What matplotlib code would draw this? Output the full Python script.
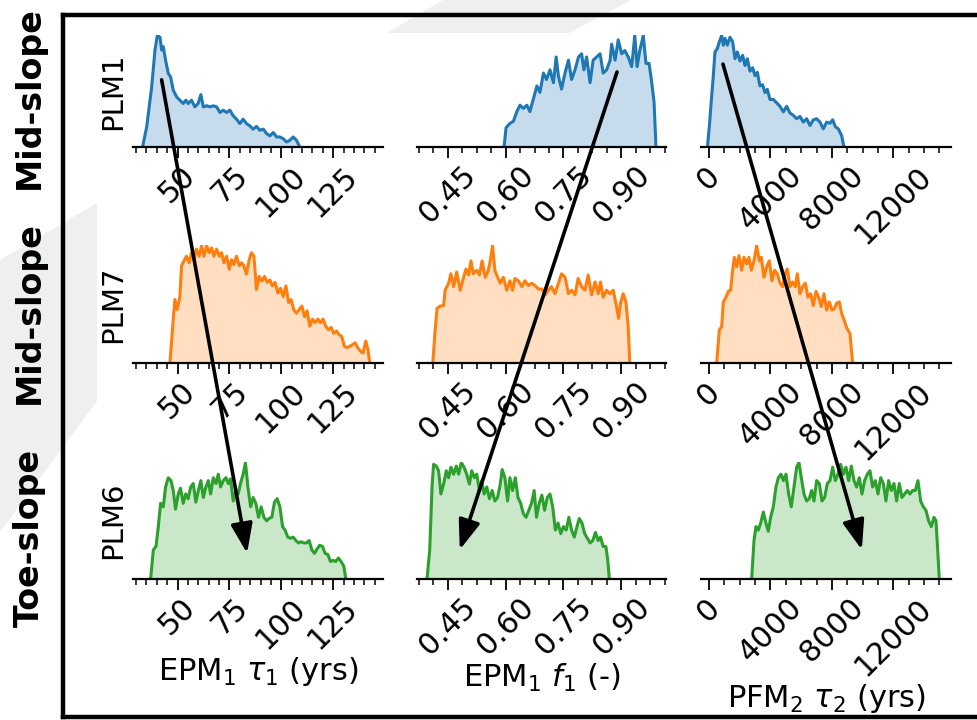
import matplotlib
matplotlib.use("Agg")
import matplotlib.pyplot as plt
from matplotlib.ticker import FixedLocator, FixedFormatter, AutoMinorLocator
from matplotlib.patches import Polygon, Rectangle, ConnectionPatch
from matplotlib.transforms import blended_transform_factory
from matplotlib.lines import Line2D

# ---------------------------------------------------------------------------
# Posterior densities (normalised to the peak of each panel)
# ---------------------------------------------------------------------------
sites = ["PLM1", "PLM7", "PLM6"]
slope_positions = ["Mid-slope", "Mid-slope", "Toe-slope"]
site_colors = ["#1f77b4", "#ff7f0e", "#2ca02c"]
param_labels = [r"$\mathrm{EPM}_1$ $\tau_1$ (yrs)",
                r"$\mathrm{EPM}_1$ $f_1$ (-)",
                r"$\mathrm{PFM}_2$ $\tau_2$ (yrs)"]

tau1_ticks = [50, 75, 100, 125]
tau1_ticklabels = ["50", "75", "100", "125"]
f1_ticks = [0.45, 0.60, 0.75, 0.90]
f1_ticklabels = ["0.45", "0.60", "0.75", "0.90"]
tau2_ticks = [0, 4000, 8000, 12000]
tau2_ticklabels = ["0", "4000", "8000", "12000"]

tau1_limits = (28.5, 149.0)
f1_limits = (0.370, 1.016)
tau2_limits = (-520, 15757)

# PLM1 -------------------------------------------------------------------
plm1_tau1_x = [33.1, 35.1, 37.5, 39.1, 40.2, 41.5, 42.3, 43.1, 44.2, 45.5, 46.6, 47.9,
               49.5, 51.1, 52.7, 54.0, 55.1, 56.7, 58.3, 59.9, 61.2, 62.4, 64.0, 65.6,
               67.2, 68.8, 70.4, 72.0, 73.6, 75.2, 76.8, 78.4, 80.0, 81.6, 83.2, 84.8,
               86.4, 88.0, 89.6, 91.3, 92.9, 94.5, 96.1, 97.7, 99.3, 100.9, 102.5,
               104.1, 105.7, 107.3, 108.9]
plm1_tau1_d = [0.0, 0.18, 0.54, 0.87, 1.0, 0.985, 0.87, 0.90, 0.78, 0.66, 0.63, 0.51,
               0.45, 0.42, 0.39, 0.42, 0.39, 0.42, 0.36, 0.39, 0.47, 0.36, 0.37, 0.36,
               0.37, 0.36, 0.31, 0.33, 0.31, 0.33, 0.28, 0.25, 0.21, 0.25, 0.21, 0.19,
               0.16, 0.185, 0.15, 0.16, 0.12, 0.10, 0.13, 0.09, 0.09, 0.075, 0.045,
               0.06, 0.09, 0.06, 0.0]

plm1_f1_x = [0.596, 0.601, 0.611, 0.620, 0.629, 0.637, 0.646, 0.655, 0.663, 0.672,
             0.681, 0.689, 0.698, 0.706, 0.715, 0.724, 0.731, 0.737, 0.745, 0.754,
             0.763, 0.771, 0.780, 0.789, 0.797, 0.803, 0.810, 0.819, 0.827, 0.836,
             0.845, 0.853, 0.862, 0.871, 0.875, 0.884, 0.892, 0.901, 0.909, 0.918,
             0.927, 0.935, 0.941, 0.948, 0.957, 0.964, 0.972, 0.978, 0.985, 0.990]
plm1_f1_d = [0.0, 0.18, 0.22, 0.24, 0.33, 0.39, 0.36, 0.39, 0.33, 0.45,
             0.57, 0.51, 0.69, 0.63, 0.72, 0.60, 0.84, 0.66, 0.54, 0.69,
             0.81, 0.63, 0.72, 0.84, 0.87, 0.72, 0.84, 0.60, 0.81, 0.84,
             0.87, 0.69, 0.72, 0.81, 0.96, 0.81, 1.0, 0.87, 0.90, 0.84,
             0.75, 1.04, 0.75, 0.90, 1.04, 0.78, 0.78, 0.63, 0.42, 0.0]

plm1_tau2_x = [-100, 22, 174, 282, 390, 543, 673, 825, 933, 1042, 1194, 1367, 1541,
               1693, 1845, 2018, 2192, 2344, 2496, 2669, 2843, 2995, 3147, 3320, 3494,
               3646, 3798, 3971, 4188, 4405, 4622, 4839, 5056, 5273, 5490, 5707, 5924,
               6141, 6358, 6575, 6792, 7009, 7226, 7443, 7660, 7877, 8051, 8224, 8420,
               8637, 8789]
plm1_tau2_d = [0.0, 0.18, 0.45, 0.63, 0.84, 0.87, 0.93, 0.985, 0.90, 0.96, 0.90, 0.97,
               0.93, 0.78, 0.84, 0.76, 0.81, 0.72, 0.78, 0.67, 0.70, 0.63, 0.66, 0.54,
               0.55, 0.48, 0.51, 0.42, 0.42, 0.39, 0.36, 0.31, 0.36, 0.30, 0.28, 0.25,
               0.27, 0.22, 0.25, 0.19, 0.24, 0.25, 0.22, 0.16, 0.22, 0.21, 0.24, 0.18,
               0.16, 0.10, 0.0]

# PLM7 -------------------------------------------------------------------
plm7_tau1_x = [46.3, 47.9, 48.7, 49.8, 51.1, 51.9, 53.0, 54.3, 55.6, 56.7, 57.9, 59.1,
               60.4, 61.6, 62.7, 64.0, 65.2, 66.4, 67.5, 68.8, 70.1, 71.2, 72.3, 73.6,
               74.9, 76.0, 77.1, 78.4, 79.7, 80.8, 81.9, 83.2, 84.5, 85.6, 86.8, 88.0,
               89.3, 90.6, 91.9, 93.2, 94.5, 95.7, 97.0, 98.3, 99.6, 100.9, 102.2,
               103.5, 104.7, 106.0, 107.3, 108.6, 109.9, 111.2, 112.4, 113.7, 115.0,
               116.3, 117.6, 118.9, 120.1, 121.4, 122.7, 124.0, 125.3, 126.6, 127.8,
               129.1, 130.4, 131.7, 133.0, 134.3, 135.6, 136.8, 138.1, 139.4, 140.7,
               141.8, 142.6]
plm7_tau1_d = [0.0, 0.37, 0.535, 0.45, 0.56, 0.82, 0.86, 0.90, 0.845, 0.93, 0.87, 0.96,
               0.90, 0.99, 0.90, 0.99, 0.93, 0.97, 0.90, 0.96, 0.90, 0.93, 0.845, 0.90,
               0.79, 0.87, 0.83, 0.90, 0.82, 0.845, 0.82, 0.75, 0.87, 0.93, 0.90, 0.62,
               0.73, 0.69, 0.73, 0.68, 0.70, 0.65, 0.68, 0.59, 0.63, 0.56, 0.65,
               0.51, 0.535, 0.45, 0.42, 0.45, 0.48, 0.39, 0.44, 0.31, 0.37,
               0.34, 0.37, 0.34, 0.37, 0.31, 0.28, 0.30, 0.25, 0.27, 0.24,
               0.225, 0.14, 0.13, 0.14, 0.155, 0.17, 0.13, 0.10, 0.085, 0.185,
               0.11, 0.0]

plm7_f1_x = [0.411, 0.417, 0.422, 0.430, 0.439, 0.443, 0.452, 0.458, 0.465, 0.473,
             0.482, 0.491, 0.497, 0.504, 0.510, 0.516, 0.525, 0.532, 0.539, 0.547,
             0.555, 0.560, 0.566, 0.572, 0.579, 0.586, 0.594, 0.603, 0.611, 0.618,
             0.624, 0.633, 0.642, 0.650, 0.659, 0.668, 0.676, 0.685, 0.694, 0.702,
             0.711, 0.719, 0.728, 0.737, 0.745, 0.754, 0.763, 0.771, 0.780, 0.788,
             0.797, 0.806, 0.814, 0.823, 0.832, 0.840, 0.846, 0.853, 0.862, 0.870,
             0.879, 0.886, 0.893, 0.898, 0.905, 0.912, 0.918, 0.922]
plm7_f1_d = [0.0, 0.28, 0.465, 0.485, 0.49, 0.62, 0.68, 0.76, 0.65, 0.775,
             0.62, 0.73, 0.80, 0.75, 0.87, 0.76, 0.79, 0.75, 0.87, 0.73,
             0.79, 0.87, 1.0, 0.79, 0.73, 0.68, 0.73, 0.62, 0.70, 0.62,
             0.72, 0.70, 0.65, 0.70, 0.66, 0.68, 0.66, 0.63, 0.63, 0.58,
             0.62, 0.65, 0.59, 0.68, 0.76, 0.73, 0.59, 0.62, 0.58, 0.72,
             0.65, 0.62, 0.75, 0.58, 0.69, 0.59, 0.69, 0.56, 0.62, 0.59,
             0.62, 0.51, 0.38, 0.51, 0.59, 0.52, 0.31, 0.0]

plm7_tau2_x = [499, 673, 825, 933, 1107, 1259, 1410, 1541, 1649, 1801, 1953, 2127,
               2279, 2452, 2604, 2756, 2930, 3103, 3277, 3407, 3581, 3754, 3928, 4101,
               4275, 4449, 4622, 4796, 4948, 5100, 5273, 5447, 5620, 5751, 5924, 6098,
               6271, 6445, 6619, 6792, 6966, 7139, 7313, 7487, 7660, 7834, 8007, 8181,
               8311, 8485, 8637, 8789, 8962, 9179, 9353]
plm7_tau2_d = [0.0, 0.28, 0.31, 0.52, 0.56, 0.61, 0.62, 0.79, 0.90, 0.82, 0.915, 0.79,
               0.90, 0.845, 0.90, 0.79, 0.87, 1.0, 0.87, 0.90, 0.73, 0.82, 0.87, 0.70,
               0.79, 0.76, 0.68, 0.65, 0.76, 0.80, 0.65, 0.69, 0.65, 0.76, 0.59, 0.65,
               0.68, 0.56, 0.59, 0.49, 0.61, 0.56, 0.48, 0.59, 0.45, 0.52, 0.45, 0.465,
               0.51, 0.52, 0.42, 0.37, 0.30, 0.25, 0.0]

# PLM6 -------------------------------------------------------------------
plm6_tau1_x = [37.0, 38.3, 39.6, 40.7, 41.8, 43.1, 44.2, 45.5, 46.8, 47.9, 49.0, 50.3,
               51.4, 52.7, 53.9, 55.1, 56.3, 57.5, 58.8, 60.0, 61.2, 62.4, 63.6, 64.8,
               65.9, 67.2, 68.5, 69.6, 70.7, 72.0, 73.3, 74.4, 75.5, 76.8, 78.1, 79.2,
               80.3, 81.6, 82.7, 83.9, 85.2, 86.4, 87.7, 89.0, 90.3, 91.6, 92.9, 94.1,
               95.4, 96.7, 98.0, 99.3, 100.6, 101.8, 103.1, 104.4, 105.7, 107.0, 108.3,
               109.6, 110.8, 112.1, 113.4, 114.7, 116.0, 117.3, 118.5, 119.8, 121.1,
               122.4, 123.7, 125.0, 126.2, 127.5, 128.8, 130.1, 131.1]
plm6_tau1_d = [0.0, 0.25, 0.28, 0.45, 0.65, 0.62, 0.79, 0.87, 0.845, 0.76, 0.60, 0.73,
               0.78, 0.65, 0.73, 0.69, 0.79, 0.82, 0.66, 0.76, 0.845, 0.70, 0.79, 0.845,
               0.73, 0.87, 0.82, 0.90, 0.79, 0.845, 0.87, 0.82, 0.86, 0.67, 0.76, 0.73,
               0.82, 0.90, 1.0, 0.79, 0.62, 0.70, 0.65, 0.53, 0.62, 0.53, 0.50, 0.52,
               0.53, 0.66, 0.69, 0.62, 0.45, 0.42, 0.36, 0.35, 0.36, 0.33, 0.31,
               0.32, 0.31, 0.31, 0.33, 0.25, 0.22, 0.26, 0.29, 0.28, 0.22,
               0.21, 0.15, 0.16, 0.15, 0.18, 0.15, 0.11, 0.0]

plm6_f1_x = [0.396, 0.403, 0.409, 0.413, 0.420, 0.426, 0.432, 0.439, 0.446, 0.452,
             0.458, 0.465, 0.472, 0.478, 0.485, 0.492, 0.499, 0.506, 0.512, 0.519,
             0.525, 0.532, 0.538, 0.544, 0.551, 0.558, 0.565, 0.572, 0.579, 0.586,
             0.591, 0.598, 0.605, 0.611, 0.618, 0.625, 0.632, 0.639, 0.646, 0.653,
             0.660, 0.667, 0.674, 0.680, 0.687, 0.694, 0.701, 0.708, 0.715, 0.722,
             0.729, 0.736, 0.743, 0.750, 0.757, 0.764, 0.771, 0.778, 0.785, 0.791,
             0.798, 0.805, 0.812, 0.819, 0.826, 0.833, 0.840, 0.846, 0.853, 0.860,
             0.865, 0.869]
plm6_f1_d = [0.0, 0.25, 0.79, 0.985, 0.97, 0.93, 0.73, 0.815, 0.93, 0.87,
             0.96, 0.90, 0.97, 0.90, 1.0, 0.96, 0.90, 0.815, 0.93, 0.87,
             0.90, 0.76, 0.845, 0.73, 0.79, 0.69, 0.76, 0.67, 0.70, 0.815,
             0.94, 0.87, 0.67, 0.87, 0.76, 0.87, 0.70, 0.65, 0.56, 0.53,
             0.59, 0.65, 0.76, 0.53, 0.65, 0.72, 0.59, 0.70, 0.73, 0.62,
             0.42, 0.48, 0.39, 0.45, 0.42, 0.53, 0.42, 0.36, 0.45, 0.52,
             0.48, 0.39, 0.35, 0.31, 0.33, 0.40, 0.33, 0.36, 0.28, 0.28,
             0.16, 0.0]

plm6_tau2_x = [2778, 2930, 3060, 3212, 3364, 3537, 3711, 3863, 4015, 4188, 4362, 4514,
               4687, 4839, 5013, 5186, 5360, 5534, 5707, 5859, 6011, 6185, 6358, 6532,
               6684, 6836, 7009, 7183, 7356, 7530, 7704, 7877, 8051, 8224, 8398, 8572,
               8745, 8919, 9092, 9266, 9440, 9613, 9787, 9961, 10134, 10308, 10481,
               10655, 10828, 11002, 11176, 11349, 11523, 11696, 11870, 12044, 12217,
               12391, 12564, 12738, 12912, 13085, 13259, 13432, 13606, 13780, 13953,
               14127, 14300, 14474, 14648, 14778, 14865, 14995]
plm6_tau2_d = [0.0, 0.33, 0.45, 0.42, 0.48, 0.575, 0.48, 0.41, 0.53, 0.62, 0.79, 0.87,
               0.90, 0.845, 0.90, 0.73, 0.62, 0.79, 0.96, 1.0, 0.87, 0.73, 0.67, 0.69,
               0.76, 0.67, 0.845, 0.82, 0.67, 0.70, 0.82, 0.845, 0.96, 0.845, 0.90, 0.985,
               0.90, 0.96, 0.845, 0.97, 0.845, 0.79, 0.87, 0.73, 0.845, 0.90, 0.93,
               0.79, 0.845, 0.73, 0.87, 0.82, 0.67, 0.845, 0.76, 0.82, 0.67,
               0.82, 0.70, 0.73, 0.76, 0.73, 0.76, 0.76, 0.845, 0.67, 0.62,
               0.59, 0.50, 0.45, 0.53, 0.50, 0.31, 0.0]

# Shift of each posterior between PLM1 and PLM6 (start in PLM1, end in PLM6)
shift_start = [42.3, 0.889, 911]
shift_end = [83.5, 0.481, 9952]

# ---------------------------------------------------------------------------
densities = [
    [(plm1_tau1_x, plm1_tau1_d), (plm1_f1_x, plm1_f1_d), (plm1_tau2_x, plm1_tau2_d)],
    [(plm7_tau1_x, plm7_tau1_d), (plm7_f1_x, plm7_f1_d), (plm7_tau2_x, plm7_tau2_d)],
    [(plm6_tau1_x, plm6_tau1_d), (plm6_f1_x, plm6_f1_d), (plm6_tau2_x, plm6_tau2_d)],
]
col_ticks = [(tau1_ticks, tau1_ticklabels, tau1_limits),
             (f1_ticks, f1_ticklabels, f1_limits),
             (tau2_ticks, tau2_ticklabels, tau2_limits)]

W, H = 978, 720
fig = plt.figure(figsize=(W / 100, H / 100), dpi=100)
fig.patch.set_facecolor("white")


def fx(px):
    return px / W


def fy(py):
    return 1 - py / H


def rect(left, top, right, bottom):
    return [fx(left), fy(bottom), (right - left) / W, (bottom - top) / H]


# slide backdrop: faint diagonal band and the white plotting area
band = Polygon([(fx(0), fy(260)), (fx(443), fy(0)), (fx(631), fy(0)),
                (fx(240), fy(208)), (fx(0), fy(532))],
               closed=True, transform=fig.transFigure, facecolor="#eeefef",
               edgecolor="none", zorder=-3)
fig.patches.append(band)
fig.patches.append(Rectangle((fx(97), fy(H + 5)), 1, fy(33) - fy(H + 5),
                             transform=fig.transFigure, facecolor="white",
                             edgecolor="none", zorder=-2))

col_lr = [(133, 383), (417, 666), (701, 951)]
row_tb = [(35, 147), (245, 363), (462, 579)]

axes = [[None] * 3 for _ in range(3)]
for r in range(3):
    for c in range(3):
        ax = fig.add_axes(rect(col_lr[c][0], row_tb[r][0], col_lr[c][1], row_tb[r][1]))
        ax.set_facecolor("none")
        x, d = densities[r][c]
        col = site_colors[r]
        ax.fill_between(x, d, 0, color=col, alpha=0.25, lw=0)
        ax.plot(x, d, color=col, lw=2.2, solid_joinstyle="round")
        ticks, labels, lims = col_ticks[c]
        ax.set_xlim(*lims)
        ax.set_ylim(0, max(d) * 1.005)
        ax.xaxis.set_major_locator(FixedLocator(ticks))
        ax.xaxis.set_major_formatter(FixedFormatter(labels))
        ax.xaxis.set_minor_locator(AutoMinorLocator())
        ax.tick_params(axis="x", which="major", length=8, width=1.3,
                       labelsize=21.5, pad=2, labelrotation=45)
        ax.tick_params(axis="x", which="minor", length=4.5, width=1.1)
        ax.set_yticks([])
        for s in ("left", "top", "right"):
            ax.spines[s].set_visible(False)
        ax.spines["bottom"].set_linewidth(1.6)
        if c == 0:
            ax.set_ylabel(sites[r], fontsize=21, labelpad=4)
        if r == 2:
            ax.set_xlabel(param_labels[c], fontsize=22, labelpad=1)
        axes[r][c] = ax

# arrows tracing the shift of each posterior from PLM1 down to PLM6
for c in range(3):
    a_top, a_bot = axes[0][c], axes[2][c]
    tA = blended_transform_factory(a_top.transData, a_top.transAxes)
    tB = blended_transform_factory(a_bot.transData, a_bot.transAxes)
    yA = [0.60, 0.67, 0.74][c]
    yB = [0.22, 0.25, 0.25][c]
    con = ConnectionPatch(xyA=(shift_start[c], yA), coordsA=tA,
                          xyB=(shift_end[c], yB), coordsB=tB,
                          arrowstyle="-|>,head_length=0.9,head_width=0.33",
                          mutation_scale=20, lw=2.6, color="black", zorder=10)
    fig.add_artist(con)

# frame around the panel block
for xs, ys in [((63, 63), (15, 717)), ((63, 990), (15, 15)), ((63, 990), (717, 717))]:
    fig.add_artist(Line2D([fx(v) for v in xs], [fy(v) for v in ys],
                          transform=fig.transFigure, color="black", lw=3.2,
                          solid_capstyle="projecting", zorder=9))

# slope-position labels
for text, yc in zip(slope_positions, [98, 313, 538]):
    fig.text(fx(29), fy(yc), text, rotation=90, ha="center", va="center",
             fontsize=24, fontweight="bold")

fig.savefig("out.png", dpi=100)
